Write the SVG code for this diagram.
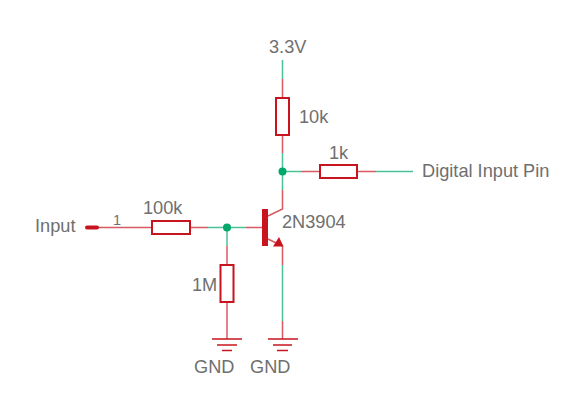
<svg xmlns="http://www.w3.org/2000/svg" width="577" height="400" viewBox="0 0 577 400">
<style>
text{font-family:"Liberation Sans",Arial,sans-serif;font-size:18.200px;fill:#6f6f6f}
.w{stroke:#00a86b;stroke-width:1.500;fill:none;opacity:.7}
.r{stroke:#c8141e;stroke-width:1.500;fill:none;opacity:.7}
.b{fill:#fff;stroke:#c8141e;stroke-width:2}
.g{stroke:#c8141e;fill:none;stroke-width:1.500}
.j{fill:#00a86b}
.s{fill:#c8141e;stroke:none}
</style>
<rect width="577" height="400" fill="#fff"/>
<g id="connectors">
<path class="w" d="M282.500 60V79M282.500 153V190M283 171.500H301M376 171.500H413M208 227.500H246M227 227.500V246M282.500 265V321"/>
<path class="r" d="M282.500 79V97M282.500 135V153M282.500 190V209L268 216M301 171.500H320M357 171.500H376M98 227.500H152M190 227.500H208M246 227.500H262M227 246V265M227 302V339M268 239L282.500 246V265M282.500 321V339"/>
</g>
<g id="r-10k"><rect class="b" x="276" y="98" width="13" height="37"/><text x="299" y="123">10k</text></g>
<g id="r-1k"><rect class="b" x="320" y="165" width="37" height="13"/><text x="329" y="159">1k</text></g>
<g id="r-100k"><rect class="b" x="152" y="221" width="38" height="13"/><text x="143" y="214">100k</text></g>
<g id="r-1m"><rect class="b" x="220.500" y="265" width="13" height="37"/><text x="192" y="291">1M</text></g>
<g id="input"><path d="M87 227.500H97" stroke="#c8141e" stroke-width="4" stroke-linecap="round" fill="none"/><text x="35" y="232">Input</text><text x="113" y="225" style="font-size:14.500px">1</text></g>
<g id="q1"><rect class="s" x="262" y="209" width="6" height="37"/><path class="s" d="M273 246.500L279 237L283.500 246.500Z"/><text x="282" y="228">2N3904</text></g>
<g id="j1"><circle class="j" cx="282.500" cy="171.500" r="4"/></g>
<g id="j2"><circle class="j" cx="227" cy="227.500" r="4"/></g>
<g id="vcc"><text x="269" y="53">3.3V</text></g>
<g id="output"><text x="422" y="177">Digital Input Pin</text></g>
<g id="gnd1"><path class="g" d="M212 339H242"/><path class="g" stroke-width="2" d="M217 345H237"/><path class="g" d="M222 350.500H232"/><text x="194" y="373">GND</text></g>
<g id="gnd2"><path class="g" d="M268 339H298"/><path class="g" stroke-width="2" d="M273 345H292"/><path class="g" d="M277 350.500H288"/><text x="250" y="373">GND</text></g>
</svg>
